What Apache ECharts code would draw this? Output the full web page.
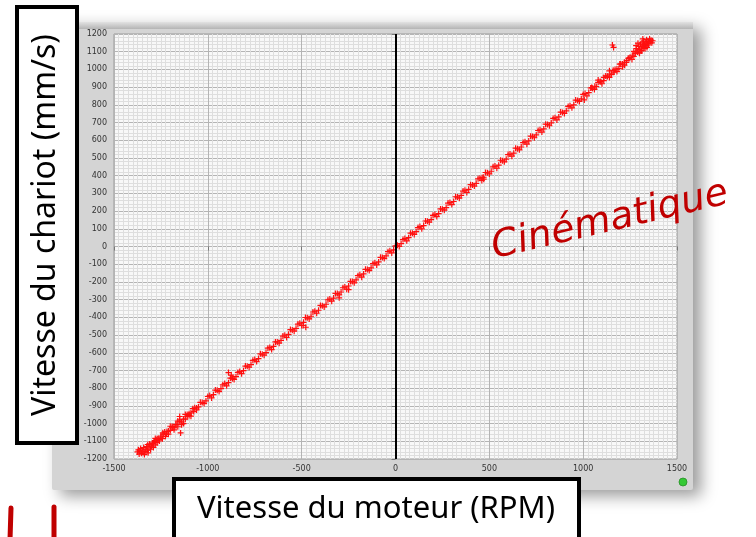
<!DOCTYPE html>
<html>
<head>
<meta charset="utf-8">
<script src="https://cdn.jsdelivr.net/npm/echarts@6/dist/echarts.min.js"></script>
<style>
  html, body { margin: 0; padding: 0; background: #fff; }
  #chart { width: 756px; height: 537px; }
</style>
</head>
<body>
<div id="chart"></div>
<script>
// axis ranges / ticks
var xRange = [-1500, 1500];
var yRange = [-1200, 1200];
var xStep = 500;
var yStep = 100;

// [motor rpm, carriage mm/s]
var mainBranch = [
  [-1320,-1118],[-1280,-1084],[-1240,-1052],[-1200,-1015],[-1160,-986],[-1120,-948],[-1080,-916],
  [-1040,-880],[-1000,-847],[-960,-811],[-920,-781],[-880,-743],[-840,-711],[-800,-675],[-760,-643],
  [-720,-606],[-680,-574],[-640,-539],[-600,-506],[-560,-469],[-520,-438],[-480,-401],[-440,-370],
  [-400,-333],[-360,-301],[-320,-265],[-280,-233],[-240,-197],[-200,-165],[-160,-129],[-120,-97],
  [-80,-61],[-40,-29],[0,4],[40,39],[80,75],[120,107],[160,144],[200,176],[240,212],[280,245],
  [320,281],[360,313],[400,349],[440,382],[480,418],[520,450],[560,487],[600,519],[640,555],
  [680,587],[720,623],[760,655],[800,691],[840,723],[880,759],[920,791],[960,827],[1000,859],
  [1040,895],[1080,927],[1120,963],[1160,995],[1200,1031],[1240,1063],[1280,1099],[1320,1129]
];
var midBranch = [
  [-1310,-1115],[-1270,-1085],[-1230,-1047],[-1190,-1017],[-1150,-979],[-1110,-949],[-1070,-911],
  [-1030,-881],[-990,-842],[-950,-812],[-910,-774],[-870,-744],[-830,-706],[-790,-676],[-750,-638],
  [-710,-608],[-670,-570],[-630,-539],[-590,-501],[-550,-471],[-510,-433],[-470,-403],[-430,-365],
  [-390,-335],[-350,-297],[-310,-266],[-270,-228],[-230,-198],[-190,-160],[-150,-130],[-110,-92],
  [-70,-62],[-30,-24],[10,7],[50,45],[90,75],[130,113],[170,143],[210,181],[250,211],[290,249],
  [330,279],[370,318],[410,348],[450,386],[490,416],[530,454],[570,484],[610,522],[650,552],
  [690,591],[730,621],[770,659],[810,689],[850,727],[890,757],[930,795],[970,825],[1010,864],
  [1050,894],[1090,932],[1130,962],[1170,1000],[1210,1030],[1250,1068],[1290,1098],[1330,1136]
];
var outerBranch = [
  [-1290,-1110],[-1250,-1076],[-1210,-1042],[-1170,-1008],[-1130,-974],[-1090,-940],[-1050,-906],
  [-1010,-872],[-970,-837],[-930,-803],[-890,-769],[-850,-735],[-810,-701],[-770,-667],[-730,-633],
  [-690,-599],[-650,-564],[-610,-530],[-570,-496],[-530,-462],[-490,-428],[-450,-394],[-410,-360],
  [-370,-326],[-330,-291],[-290,-257],[-250,-223],[-210,-189],[-170,-155],[-130,-121],[-90,-87],
  [-50,-53],[-10,-19],[30,16],[70,50],[110,84],[150,118],[190,152],[230,186],[270,220],[310,254],
  [350,289],[390,323],[430,357],[470,391],[510,425],[550,459],[590,493],[630,527],[670,562],
  [710,596],[750,630],[790,664],[830,698],[870,732],[910,766],[950,800],[990,834],[1030,869],
  [1070,903],[1110,937],[1150,971],[1190,1005],[1230,1039],[1270,1073],[1310,1107]
];
var returnBranch = [
  [-1300,-1127],[-1260,-1091],[-1220,-1060],[-1180,-1024],[-1140,-991],[-1100,-955],[-1060,-923],
  [-1020,-887],[-980,-855],[-940,-819],[-900,-787],[-860,-751],[-820,-718],[-780,-682],[-740,-650],
  [-700,-614],[-660,-582],[-620,-546],[-580,-514],[-540,-478],[-500,-446],[-460,-409],[-420,-377],
  [-380,-341],[-340,-309],[-300,-273],[-260,-241],[-220,-205],[-180,-173],[-140,-136],[-100,-104],
  [-60,-68],[-20,-36],[20,0],[60,32],[100,68],[140,100],[180,137],[220,169],[260,205],[300,237],
  [340,273],[380,305],[420,341],[460,373],[500,410],[540,442],[580,478],[620,510],[660,546],
  [700,578],[740,614],[780,646],[820,682],[860,715],[900,751],[940,783],[980,819],[1020,851],
  [1060,887],[1100,919],[1140,955],[1180,988],[1220,1024],[1260,1056],[1300,1092],[1340,1124]
];
var topCluster = [
  [1262,1080],[1270,1102],[1278,1090],[1285,1118],[1290,1100],[1296,1130],[1300,1112],[1305,1142],
  [1310,1120],[1314,1150],[1318,1132],[1322,1160],[1326,1140],[1330,1118],[1334,1155],[1338,1168],
  [1342,1145],[1346,1160],[1350,1150],[1354,1172],[1358,1158],[1362,1165],[1366,1150],[1370,1162],
  [1300,1095],[1312,1105],[1324,1125],[1336,1135],[1348,1138],[1282,1134],[1292,1148],[1318,1172],
  [1244,1062],[1232,1050],[1220,1040],[1210,1015],[1195,1030],[1180,1002],[1165,985],[1150,975],
  [1140,992],[1128,960],[1110,955],[1095,930],[1080,940],[1062,905],[1045,898]
];
var bottomCluster = [
  [-1375,-1160],[-1370,-1148],[-1366,-1172],[-1362,-1155],[-1358,-1140],[-1354,-1168],[-1350,-1150],
  [-1346,-1162],[-1342,-1135],[-1338,-1175],[-1334,-1145],[-1330,-1158],[-1326,-1130],[-1322,-1150],
  [-1318,-1165],[-1314,-1138],[-1310,-1120],[-1305,-1145],[-1300,-1128],[-1295,-1110],[-1290,-1135],
  [-1285,-1100],[-1280,-1120],[-1275,-1092],[-1270,-1108],[-1265,-1085],[-1258,-1098],[-1250,-1070],
  [-1242,-1085],[-1235,-1060],[-1226,-1072],[-1218,-1045],[-1210,-1060],[-1200,-1038],[-1190,-1020],
  [-1180,-1035],[-1170,-1005],[-1160,-1018],[-1150,-990],[-1140,-1006],[-1130,-1000],[-1120,-975],
  [-1110,-960],[-1100,-945],[-1090,-958],[-1075,-932],[-1060,-912]
];
var strayPoints = [
  [-1145,-1053],[-1150,-960],[-890,-712],[-875,-726],[-868,-745],[-492,-446],[-478,-456],
  [462,390],[470,380],[1006,828],[1156,1138],[1162,1124],[-300,-290],[-250,-244]
];

var plusPath = 'path://M4,0H6V4H10V6H6V10H4V6H0V4H4Z';
var allPoints = mainBranch.concat(midBranch, outerBranch, returnBranch, topCluster, bottomCluster, strayPoints);

var chart = echarts.init(document.getElementById('chart'));

var plainNumber = function (v) { return String(v); };

var option = {
  animation: false,
  backgroundColor: '#ffffff',
  grid: {
    left: 114, top: 34, width: 563, height: 425,
    show: true, backgroundColor: '#f8f8f8', borderColor: '#9a9a9a', borderWidth: 1
  },
  xAxis: {
    type: 'value', min: xRange[0], max: xRange[1], interval: xStep,
    axisLine: { show: false },
    axisTick: { show: true, inside: false, length: 4, lineStyle: { color: '#777' } },
    axisLabel: { fontSize: 8, color: '#333', fontFamily: 'DejaVu Sans', margin: 6, formatter: plainNumber },
    splitLine: { show: true, lineStyle: { color: '#b4b4b4', width: 1 } },
    minorTick: { show: false, splitNumber: 20 },
    minorSplitLine: { show: true, lineStyle: { color: '#dedede', width: 1 } }
  },
  yAxis: {
    type: 'value', min: yRange[0], max: yRange[1], interval: yStep,
    axisLine: { show: false },
    axisTick: { show: true, inside: false, length: 4, lineStyle: { color: '#777' } },
    axisLabel: { fontSize: 8, color: '#333', fontFamily: 'DejaVu Sans', margin: 7, formatter: plainNumber },
    splitLine: { show: true, lineStyle: { color: '#b4b4b4', width: 1 } },
    minorTick: { show: false, splitNumber: 5 },
    minorSplitLine: { show: true, lineStyle: { color: '#dedede', width: 1 } }
  },
  graphic: [
    // instrument panel behind the plot
    { type: 'rect', z: -10, shape: { x: 52, y: 22, width: 641, height: 468, r: 2 },
      style: { fill: '#d4d4d4', shadowBlur: 16, shadowColor: 'rgba(0,0,0,0.4)', shadowOffsetX: 8, shadowOffsetY: 6 } },
    { type: 'rect', z: -9, shape: { x: 52, y: 22, width: 641, height: 7 },
      style: { fill: new echarts.graphic.LinearGradient(0, 0, 0, 1, [
        { offset: 0, color: '#e2e2e2' }, { offset: 1, color: '#b4b4b4' }]) } },
    { type: 'circle', z: 5, shape: { cx: 683, cy: 482, r: 4 },
      style: { fill: '#35c935', stroke: '#2a8f2a', lineWidth: 0.8 } },
    // y axis title box
    { type: 'rect', z: 100, shape: { x: 17, y: 7, width: 60, height: 436 },
      style: { fill: '#fff', stroke: '#000', lineWidth: 4 } },
    { type: 'text', z: 101, x: 46, y: 225, rotation: Math.PI / 2,
      style: { text: 'Vitesse du chariot (mm/s)', fill: '#000', font: '32px "Noto Sans"', align: 'center', verticalAlign: 'middle' } },
    // x axis title box
    { type: 'rect', z: 100, shape: { x: 174, y: 479, width: 405, height: 64 },
      style: { fill: '#fff', stroke: '#000', lineWidth: 4 } },
    { type: 'text', z: 101, x: 376, y: 509,
      style: { text: 'Vitesse du moteur (RPM)', fill: '#000', font: '31px "Noto Sans"', align: 'center', verticalAlign: 'middle' } },
    // handwritten note
    { type: 'text', z: 101, x: 610, y: 221, rotation: 0.23,
      style: { text: 'Cinématique', fill: '#c00000', font: 'italic 38px "DejaVu Sans"', align: 'center', verticalAlign: 'middle' } },
    { type: 'line', z: 101, shape: { x1: 11, y1: 508, x2: 10, y2: 540 },
      style: { stroke: '#c00000', lineWidth: 5, lineCap: 'round' } },
    { type: 'line', z: 101, shape: { x1: 54, y1: 507, x2: 54, y2: 540 },
      style: { stroke: '#c00000', lineWidth: 5, lineCap: 'round' } }
  ],
  series: [{
    type: 'scatter',
    data: allPoints,
    symbol: plusPath,
    symbolSize: 6,
    itemStyle: { color: '#ff1010', opacity: 1 },
    markLine: {
      silent: true, symbol: 'none', animation: false,
      label: { show: false },
      lineStyle: { color: '#000', width: 2, type: 'solid' },
      data: [{ xAxis: 0 }]
    }
  }]
};

chart.setOption(option);
</script>
</body>
</html>
